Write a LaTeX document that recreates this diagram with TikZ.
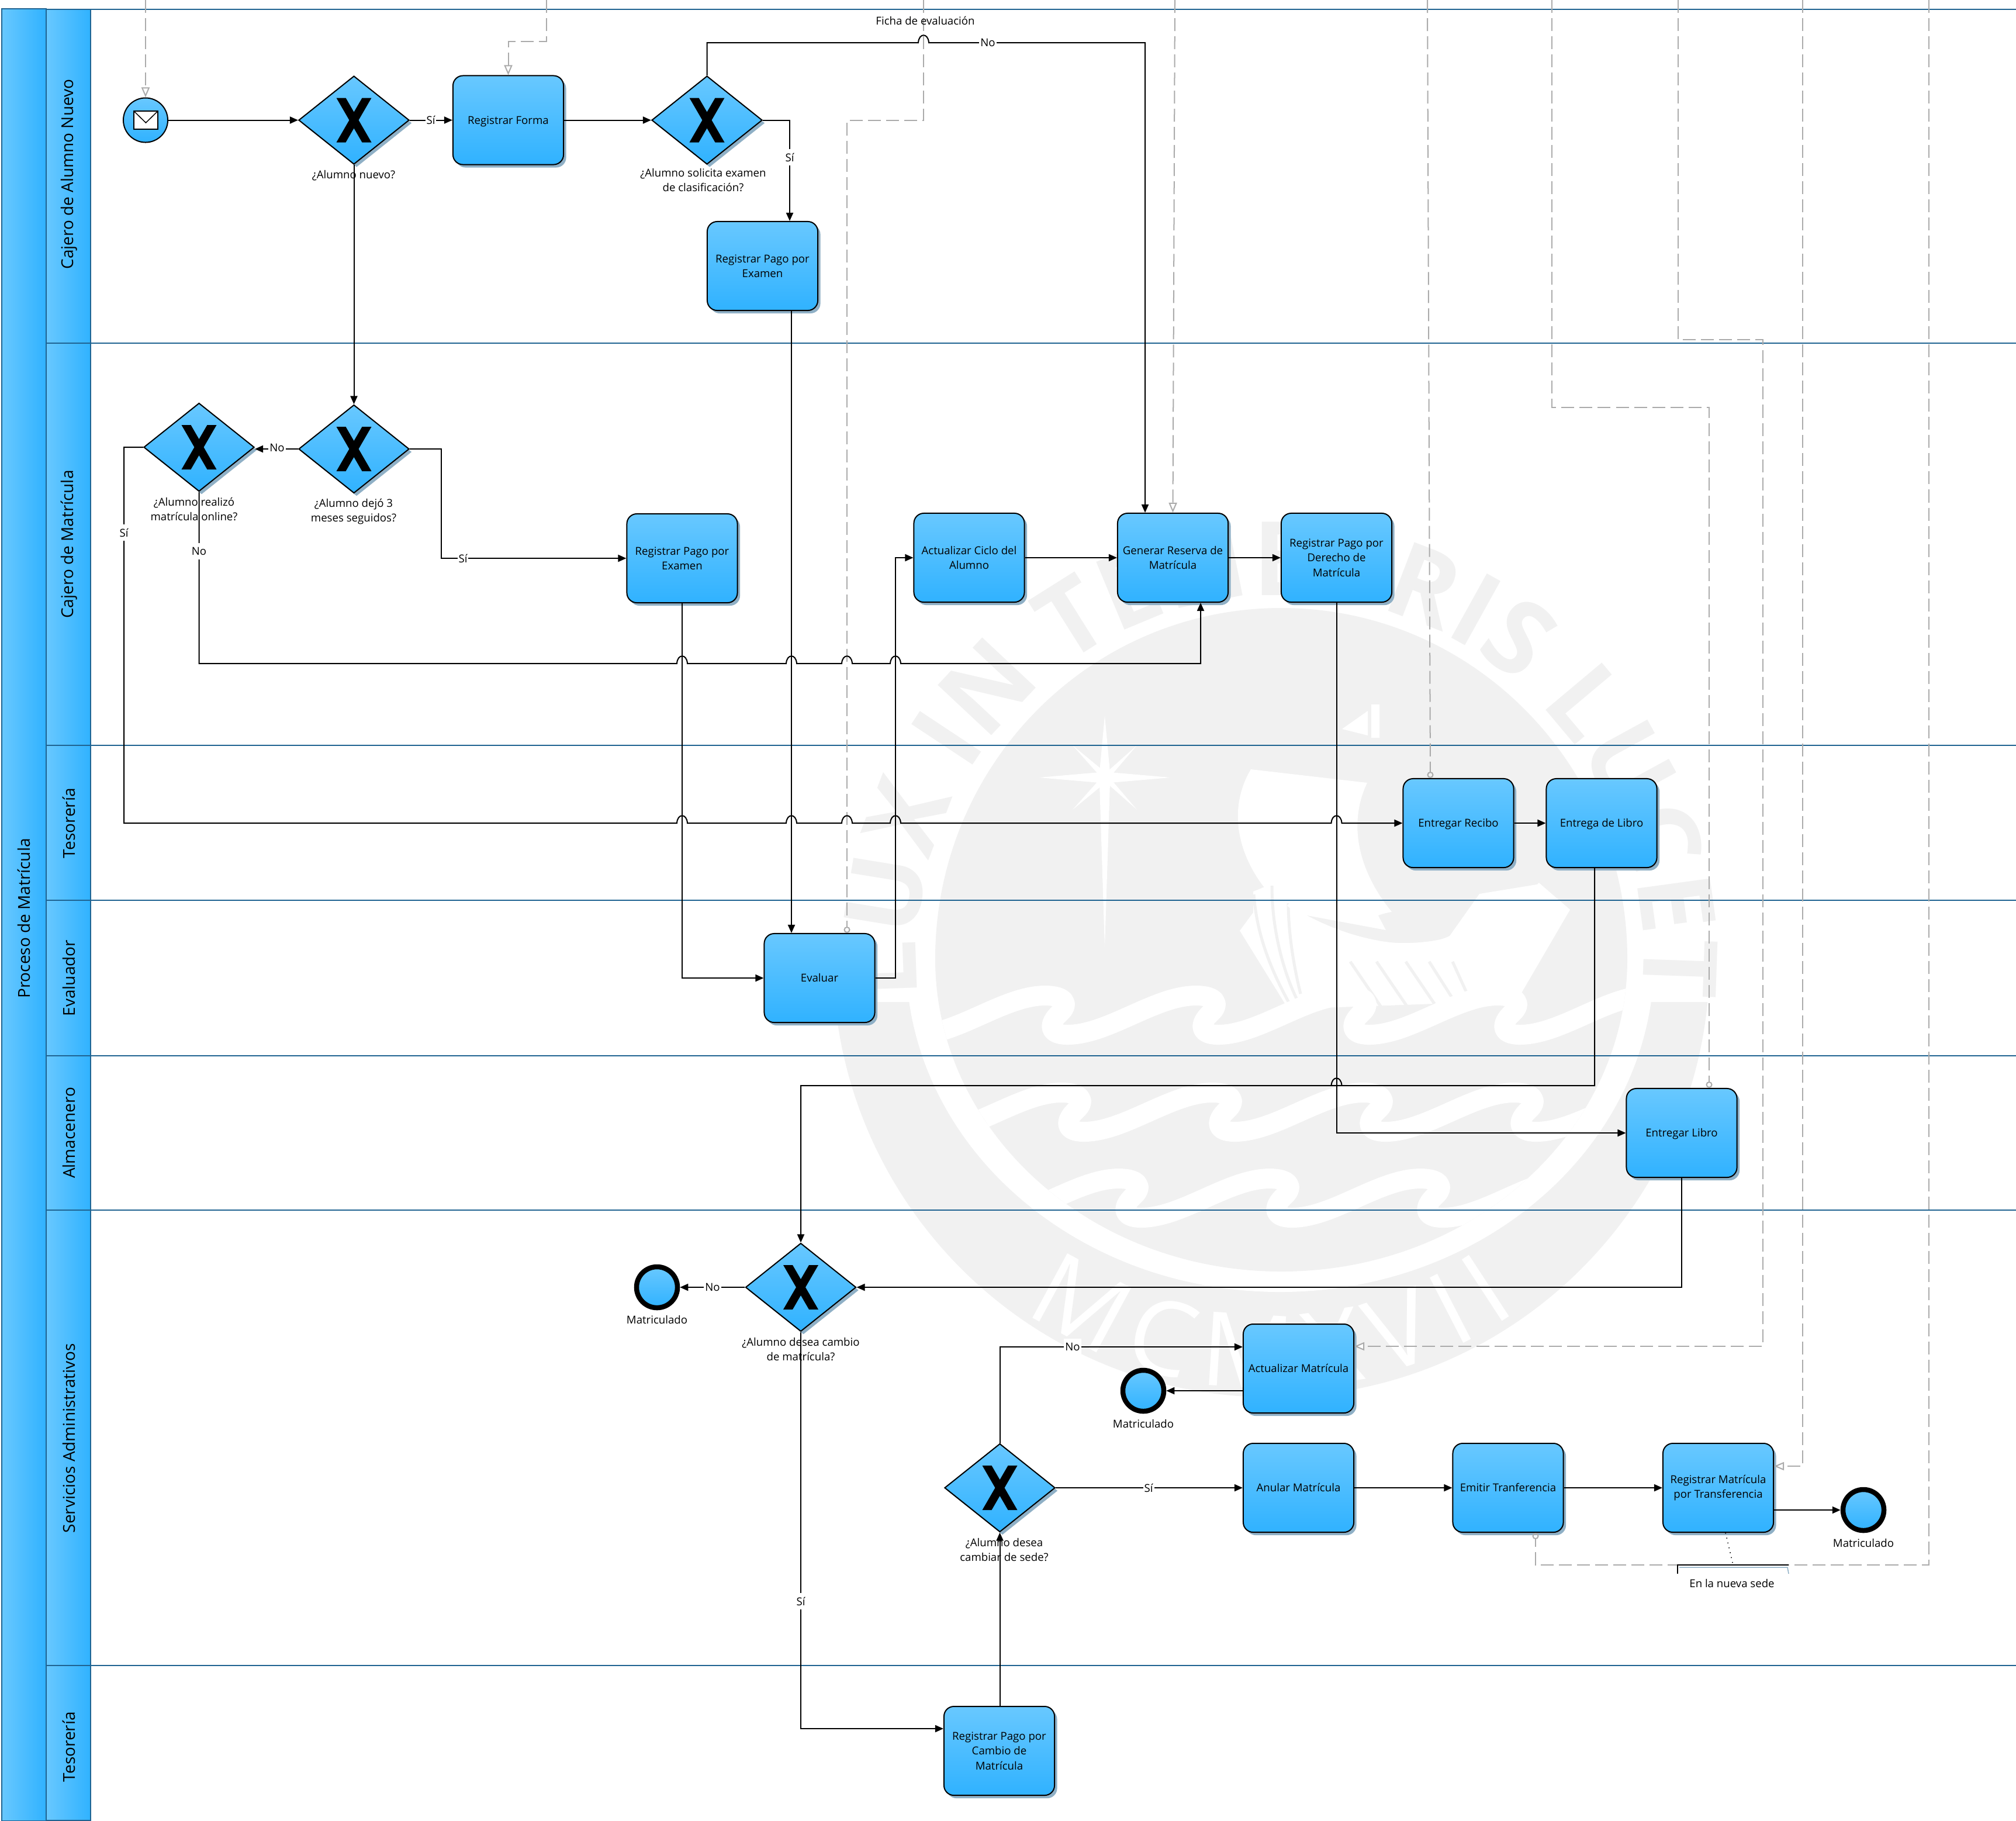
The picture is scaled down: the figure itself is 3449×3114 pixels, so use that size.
\documentclass[tikz,border=0pt]{standalone}
\usepackage{fontspec}
\setmainfont{Open Sans}
\usetikzlibrary{shapes.geometric,arrows.meta,shadows,decorations.text,calc}
\definecolor{topc}{HTML}{68C8FF}
\definecolor{botc}{HTML}{30B2FF}
\definecolor{shadowc}{HTML}{8FB0C6}
\definecolor{laneline}{HTML}{1F6391}
\definecolor{dashc}{HTML}{ABABAB}
\definecolor{wmgray}{HTML}{F1F1F1}
\newcommand\wmfont{\fontsize{50}{50}\selectfont\bfseries}
\newcommand\wmfontb{\fontsize{50}{50}\selectfont}
\tikzset{
  softshadow/.style={general shadow={fill=shadowc,shadow xshift=0.045cm,shadow yshift=-0.05cm}},
  task/.style={draw=black,line width=0.02cm,rounded corners=0.17cm,top color=topc,bottom color=botc,minimum width=1.89cm,minimum height=1.52cm,inner sep=0pt,align=center,softshadow,font=\fontsize{5.3}{7.2}\selectfont},
  single/.style={text height=5.2pt,text depth=1.4pt},
  gateway/.style={diamond,aspect=1.25,draw=black,line width=0.02cm,top color=topc,bottom color=botc,minimum width=1.89cm,minimum height=1.51cm,inner sep=0pt,softshadow},
  startev/.style={circle,draw=black,line width=0.02cm,top color=topc,bottom color=botc,minimum size=0.76cm,inner sep=0pt},
  endev/.style={circle,draw=black,line width=0.085cm,top color=topc,bottom color=botc,minimum size=0.70cm,inner sep=0pt},
  flow/.style={draw=black,line width=0.02cm,-{Triangle[length=0.14cm,width=0.12cm]}},
  msg/.style={draw=dashc,line width=0.02cm,dash pattern=on 0.22cm off 0.09cm,-{Triangle[open,length=0.17cm,width=0.14cm,fill=white]}},
  msgc/.style={draw=dashc,line width=0.02cm,dash pattern=on 0.22cm off 0.09cm,-{Circle[open,length=0.11cm,fill=none]}},
  lbl/.style={inner sep=0pt,align=center,font=\fontsize{5.3}{7.2}\selectfont},
  cond/.style={fill=white,inner xsep=0.02cm,inner ysep=0pt,minimum height=0.28cm,font=\fontsize{5.3}{7.2}\selectfont},
  lanehead/.style={draw=laneline,line width=0.02cm,left color=topc,right color=botc,inner sep=0pt,minimum width=0.76cm},
  lanetxt/.style={rotate=90,inner sep=0pt,font=\fontsize{7.95}{9}\selectfont},
  laneb/.style={draw=laneline,line width=0.028cm},
  wave/.style={draw=white,line width=0.34cm,line cap=round,line join=round}
}
\newcommand\hj[2]{-- (#1-9,#2) .. controls (#1-8,#2-17) and (#1+8,#2-17) .. (#1+9,#2)}
\newcommand\gatenode[3]{%
  \node[gateway] (#1) at (#2,#3) {};
  \fill[black,shift={(#1.center)}] (-30,-38)--(-14,-38)--(30,38)--(14,38)--cycle (14,-38)--(30,-38)--(-14,38)--(-30,38)--cycle;
}
\newcommand\wavepart{.. controls +(70,0) and +(-70,0) .. ++(220,-67) .. controls +(35,0) and +(17,-15) .. ++(25,30) .. controls +(-20,18) and +(-33,0) .. ++(13,37) }
\newcommand\discpath{(1600,1640) arc [start angle=180,end angle=0,x radius=592,y radius=535] arc [start angle=0,end angle=-180,x radius=592,y radius=600]}
\begin{document}
\begin{tikzpicture}[x=0.01cm,y=-0.01cm]
\useasboundingbox (0,0) rectangle (3449,3114);
\fill[white] (0,0) rectangle (3449,3114);
% ---- watermark seal
\begin{scope}
  \clip (1400,1714) rectangle (3000,2420);
  \fill[wmgray] (2175,1640) circle [radius=750];
  \fill[white] (2190,1640) ellipse [x radius=640,y radius=570];
\end{scope}
\path[decorate,decoration={text along path,text={|\wmfont\color{wmgray}|LUX IN TENEBRIS LUCET},text align={fit to path}}]
  plot[domain=186:-6,samples=120] ({2190+622*cos(\x)},{1640-622*sin(\x)});
\fill[wmgray] \discpath;
\path[decorate,decoration={text along path,text={|\wmfontb\color{white}|MCMXVII},text align={fit to path}}]
  plot[domain=235:305,samples=60] ({2175+735*cos(\x)},{1640-735*sin(\x)});
\begin{scope}
  \clip \discpath;
  % star
  \fill[white] (1890,1224)--(1899,1321)--(2002,1330)--(1899,1339)--(1890,1621)--(1881,1339)--(1778,1330)--(1881,1321)--cycle;
  \fill[white] (1835,1275)--(1892,1322)--(1945,1275)--(1898,1330)--(1945,1385)--(1892,1338)--(1835,1385)--(1884,1330)--cycle;
  % flag
  \fill[white] (2296,1247)--(2340,1216)--(2340,1258)--cycle (2346,1205)--(2360,1205)--(2360,1262)--(2346,1262)--cycle;
  % sail and hull
  \fill[white] (2140,1316) -- (2339,1339) .. controls (2300,1420) and (2330,1520) .. (2420,1600) -- (2204,1560) .. controls (2130,1500) and (2090,1400) .. (2140,1316) -- cycle;
  \fill[wmgray] (2358,1566) .. controls (2400,1550) and (2450,1560) .. (2482,1590) .. controls (2450,1612) and (2410,1615) .. (2382,1612) -- cycle;
  \fill[white] (2176,1512) -- (2144,1525) -- (2144,1561) -- (2121,1592) -- (2204,1726) -- (2595,1712) -- (2686,1556) -- (2635,1512) -- (2531,1529) -- (2480,1601)
     .. controls (2420,1630) and (2300,1610) .. (2204,1547) -- cycle;
  \draw[wmgray,line width=0.05cm] (2145,1530) .. controls (2150,1600) and (2175,1660) .. (2205,1715);
  \draw[wmgray,line width=0.05cm] (2176,1515) .. controls (2176,1590) and (2195,1660) .. (2218,1708);
  \draw[wmgray,line width=0.05cm] (2204,1545) .. controls (2204,1600) and (2215,1660) .. (2225,1700);
  \foreach \a/\b in {2310/2385,2355/2430,2405/2480,2445/2515,2485/2535}{\draw[wmgray,line width=0.05cm] (\a,1645) -- (\b,1755);}
  \draw[white,line width=0.06cm] (2204,1547) .. controls (2300,1630) and (2500,1660) .. (2635,1512);
  % waves
  \draw[wave] (1568,1770) \wavepart \wavepart \wavepart \wavepart \wavepart;
  \draw[wave] (1596,1936) \wavepart \wavepart \wavepart \wavepart \wavepart;
  \draw[wave] (1694,2083) \wavepart \wavepart \wavepart \wavepart;
\end{scope}
% ---- lane boundaries
\foreach \yy/\nm in {16/a,587/b,1275/c,1540/d,1806/e,2070/f,2849/g}{
  \coordinate (lb\nm) at (79,\yy);
  \coordinate (le\nm) at (3449,\yy);
  \draw[laneb] (lb\nm) -- (le\nm);
}
% ---- pool and lanes
\node[lanehead,minimum height=30.98cm] (pool) at (41,1565) {};
\node[lanehead,minimum height=5.71cm] (l1) at (117,301.5) {};
\node[lanehead,minimum height=6.88cm] (l2) at (117,931) {};
\node[lanehead,minimum height=2.65cm] (l3) at (117,1407.5) {};
\node[lanehead,minimum height=2.66cm] (l4) at (117,1673) {};
\node[lanehead,minimum height=2.64cm] (l5) at (117,1938) {};
\node[lanehead,minimum height=7.79cm] (l6) at (117,2459.5) {};
\node[lanehead,minimum height=2.65cm] (l7) at (117,2981.5) {};
\node[lanetxt] (tp) at (41,1571) {Proceso de Matrícula};
\node[lanetxt] (t1) at (118,298) {Cajero de Alumno Nuevo};
\node[lanetxt] (t2) at (118,931) {Cajero de Matrícula};
\node[lanetxt] (t3) at (118,1408) {Tesorería};
\node[lanetxt] (t4) at (118,1673) {Evaluador};
\node[lanetxt] (t5) at (118,1938) {Almacenero};
\node[lanetxt] (t6) at (118,2460) {Servicios Administrativos};
\node[lanetxt] (t7) at (118,2988) {Tesorería};
% ---- flow objects
\node[startev] (start) at (249,205.5) {};
\draw[black,fill=white,line width=0.02cm] (229,190) rectangle (270,221);
\draw[black,line width=0.015cm] (229,190) -- (249.5,210) -- (270,190);
\gatenode{g1}{605.5}{205.5}
\node[task,single] (forma) at (869.5,205.5) {Registrar Forma};
\gatenode{g2}{1209.5}{205.5}
\node[task] (pagoa) at (1304.5,455) {Registrar Pago por\\Examen};
\gatenode{g3}{605.5}{768}
\gatenode{g4}{340.5}{765}
\node[task] (pagob) at (1167,955) {Registrar Pago por\\Examen};
\node[task] (ciclo) at (1658,954) {Actualizar Ciclo del\\Alumno};
\node[task] (reserva) at (2006.5,954) {Generar Reserva de\\Matrícula};
\node[task] (derecho) at (2286.5,954) {Registrar Pago por\\Derecho de\\Matrícula};
\node[task,single] (recibo) at (2495,1408) {Entregar Recibo};
\node[task,single] (libroa) at (2740,1408) {Entrega de Libro};
\node[task,single] (evaluar) at (1402,1673) {Evaluar};
\node[task,single] (librob) at (2877,1938) {Entregar Libro};
\gatenode{g5}{1370}{2202}
\node[endev] (e1) at (1124,2202) {};
\node[task,single] (actual) at (2221.5,2341) {Actualizar Matrícula};
\node[endev] (e2) at (1956,2379) {};
\gatenode{g6}{1710.5}{2545}
\node[task,single] (anular) at (2221.5,2545) {Anular Matrícula};
\node[task,single] (emitir) at (2580,2545) {Emitir Tranferencia};
\node[task] (regmat) at (2939.5,2545) {Registrar Matrícula\\por Transferencia};
\node[endev] (e3) at (3188,2583) {};
\node[task] (cambio) at (1709.5,2995) {Registrar Pago por\\Cambio de\\Matrícula};
% ---- message flows
\coordinate (m1) at (249,0);
\coordinate (m2) at (935,0);
\coordinate (m3) at (1580,0);
\coordinate (m4) at (2010,0);
\coordinate (m5) at (2442,0);
\coordinate (m6) at (2655,0);
\coordinate (m7) at (2871,0);
\coordinate (m8) at (3084,0);
\coordinate (m9) at (3300,0);
\draw[msg] (m1) -- (start.north);
\draw[msg] (m2) -- (935,71) -- (869.5,71) -- (forma.north);
\draw[msgc] (m3) -- (1580,206) -- (1449,206) -- (evaluar.north -| 1449,0);
\draw[msg] (m4) -- (reserva.north);
\draw[msgc] (m5) -- (recibo.north -| 2447,0);
\draw[msgc] (m6) -- (2655,697) -- (2924,697) -- (librob.north -| 2924,0);
\draw[msg] (m7) -- (2871,581) -- (3016,581) -- (3016,2303) -- (actual.east |- 0,2303);
\draw[msg] (m8) -- (3084,2508) -- (regmat.east |- 0,2508);
\draw[msgc] (m9) -- (3300,2677) -- (2627,2677) -- (emitir.south -| 2627,0);
% ---- sequence flows
\draw[flow] (start.east) -- (g1.west);
\draw[flow] (g1.east) -- (forma.west);
\draw[flow] (forma.east) -- (g2.west);
\draw[flow] (g2.east) -- (1351,205.5) -- (pagoa.north -| 1351,0);
\draw[flow] (g2.north) -- (1209.5,73) \hj{1580}{73} -- (1959,73) -- (reserva.north -| 1959,0);
\draw[flow] (g1.south) -- (g3.north);
\draw[flow] (g3.west) -- (g4.east |- g3.west);
\draw[flow] (g3.east) -- (755,768) -- (755,955) -- (pagob.west);
\draw[flow] (g4.west) -- (212,765) -- (212,1408) \hj{1167}{1408} \hj{1354}{1408} \hj{1449}{1408} \hj{1532}{1408} \hj{2286.5}{1408} -- (recibo.west);
\draw[flow] (g4.south) -- (340.5,1135) \hj{1167}{1135} \hj{1354}{1135} \hj{1449}{1135} \hj{1532}{1135} -- (2054,1135) -- (reserva.south -| 2054,0);
\draw[flow] (pagoa.south -| 1354,0) -- (evaluar.north -| 1354,0);
\draw[flow] (pagob.south) -- (1167,1673) -- (evaluar.west);
\draw[flow] (evaluar.east) -- (1532,1673) -- (1532,954) -- (ciclo.west);
\draw[flow] (ciclo.east) -- (reserva.west);
\draw[flow] (reserva.east) -- (derecho.west);
\draw[flow] (recibo.east) -- (libroa.west);
\draw[flow] (derecho.south) -- (2286.5,1938) -- (librob.west);
\draw[flow] (libroa.south -| 2728,0) -- (2728,1857) \hj{2286.5}{1857} -- (1370,1857) -- (g5.north);
\draw[flow] (librob.south) -- (2877,2202) -- (g5.east);
\draw[flow] (g5.west) -- (e1.east);
\draw[flow] (g5.south) -- (1370,2957) -- (cambio.west |- 0,2957);
\draw[flow] (cambio.north -| g6.south) -- (g6.south);
\draw[flow] (g6.north) -- (1710.5,2304) -- (actual.west |- 0,2304);
\draw[flow] (actual.west |- e2.east) -- (e2.east);
\draw[flow] (g6.east) -- (anular.west);
\draw[flow] (anular.east) -- (emitir.west);
\draw[flow] (emitir.east) -- (regmat.west);
\draw[flow] (regmat.east |- e3.west) -- (e3.west);
% ---- annotation
\coordinate (anA) at (2870,2692);
\coordinate (anB) at (3060,2692);
\node[lbl] (antxt) at (2963,2708) {En la nueva sede};
\draw[draw=shadowc,line width=0.015cm] (2873,2681) -- (3058,2681) -- (anB);
\draw[black,line width=0.02cm] (anA) -- (2870,2677) -- (3060,2677);
\draw[black,line width=0.015cm,dotted] (regmat.south -| 2952,0) -- (2965,2677);
% ---- labels
\node[lbl] (f1) at (1583,35) {Ficha de evaluación};
\node[lbl] (q1) at (605,300) {¿Alumno nuevo?};
\node[lbl] (q2) at (1203,308) {¿Alumno solicita examen\\de clasificación?};
\node[lbl] (q3) at (605,875) {¿Alumno dejó 3\\meses seguidos?};
\node[lbl] (q4) at (332,871) {¿Alumno realizó\\matrícula online?};
\node[lbl] (q5) at (1370,2308) {¿Alumno desea cambio\\de matrícula?};
\node[lbl] (q6) at (1718,2651) {¿Alumno desea\\cambiar de sede?};
\node[lbl] (n1) at (1124,2257) {Matriculado};
\node[lbl] (n2) at (1956,2435) {Matriculado};
\node[lbl] (n3) at (3188,2639) {Matriculado};
\node[cond] (c1) at (737,205.5) {Sí};
\node[cond] (c2) at (1351,269) {Sí};
\node[cond] (c3) at (1690,73) {No};
\node[cond] (c4) at (474,766) {No};
\node[cond] (c5) at (792,955) {Sí};
\node[cond] (c6) at (212,911) {Sí};
\node[cond] (c7) at (340.5,943) {No};
\node[cond] (c8) at (1219,2202) {No};
\node[cond] (c9) at (1370,2739) {Sí};
\node[cond] (c10) at (1835,2304) {No};
\node[cond] (c11) at (1965,2545) {Sí};
\end{tikzpicture}
\end{document}
